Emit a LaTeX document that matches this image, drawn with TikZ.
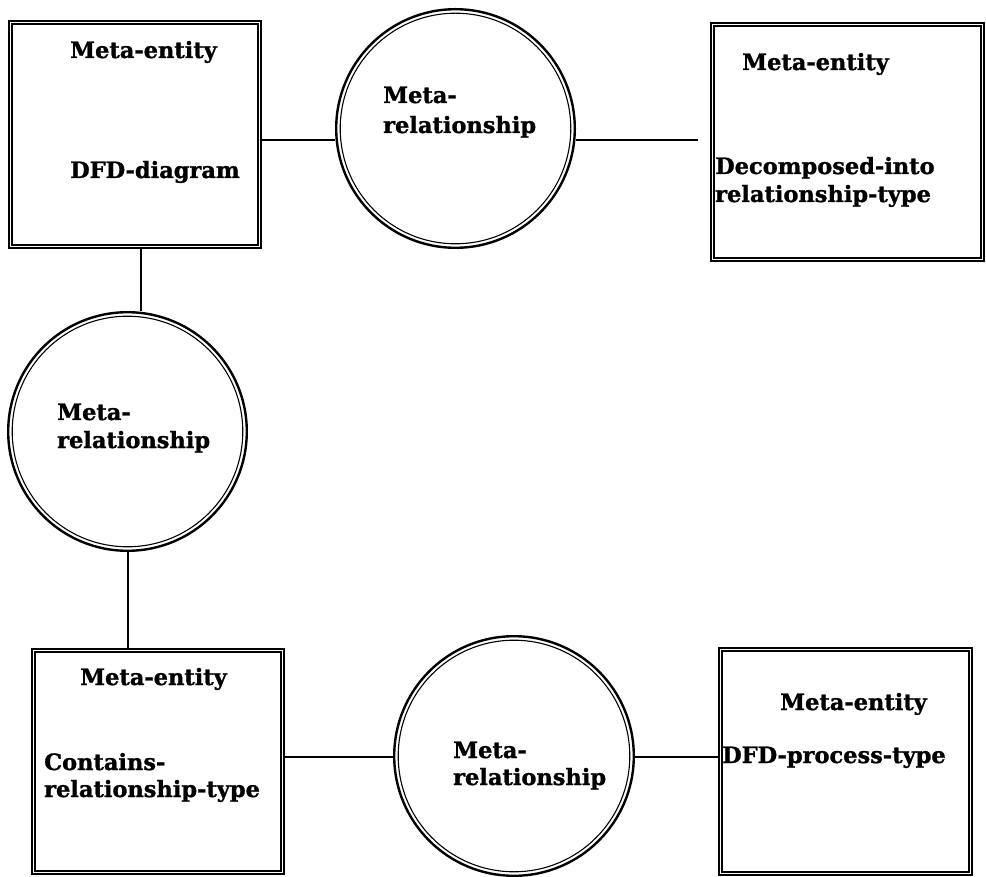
\documentclass[tikz,border=0pt]{standalone}
\usepackage{fontspec}
\setmainfont{DejaVu Serif}[BoldFeatures={FakeBold=1.2}]
\usetikzlibrary{calc}

\tikzset{
  entbox/.style={draw, rectangle, line width=2.4pt, inner sep=0pt},
  relcirc/.style={draw, circle, line width=2.4pt, inner sep=0pt, minimum size=238.6pt},
  innerline/.style={line width=1.1pt},
  link/.style={line width=1.7pt},
  lbl/.style={anchor=base west, inner sep=0pt, font=\bfseries\fontsize{22.5}{26}\selectfont},
}

\begin{document}
\begin{tikzpicture}[x=1pt,y=-1pt]
  \useasboundingbox (0,0) rectangle (986,877);
  \fill[white] (0,0) rectangle (986,877);

  % meta-entity boxes
  \node[entbox, minimum width=251.6pt, minimum height=226.6pt] (b1) at (135,134.5) {};
  \node[entbox, minimum width=272.6pt, minimum height=237.6pt] (b2) at (847.5,142) {};
  \node[entbox, minimum width=251.6pt, minimum height=224.6pt] (b3) at (158,761.5) {};
  \node[entbox, minimum width=252.6pt, minimum height=226.6pt] (b4) at (845.5,761.5) {};

  % inner rules of the double borders
  \foreach \b in {b1,b2,b3,b4}
    \draw[innerline] ($(\b.north west)+(4,4)$) rectangle ($(\b.south east)+(-4,-4)$);

  % meta-relationship circles
  \node[relcirc] (c1) at (455.5,128.5) {};
  \node[relcirc] (c2) at (127.5,431.5) {};
  \node[relcirc, minimum size=239.6pt] (c3) at (514,756) {};
  \foreach \c/\r in {c1/115.3,c2/115.3,c3/115.8}
    \draw[innerline] (\c.center) circle[radius=\r];

  % connectors
  \coordinate (stub) at (698,140);
  \draw[link] (b1.east |- 0,140) -- (c1.west |- 0,140);
  \draw[link] (c1.east |- 0,140) -- (stub);
  \draw[link] (b1.south -| 141,0) -- (c2.north -| 141,0);
  \draw[link] (c2.south -| 128,0) -- (b3.north -| 128,0);
  \draw[link] (b3.east |- 0,757) -- (c3.west |- 0,757);
  \draw[link] (c3.east |- 0,757) -- (b4.west |- 0,757);

  % labels
  \node[lbl] (t1a) at (70,58) {Meta-entity};
  \node[lbl] (t1b) at (70,178) {DFD-diagram};

  \node[lbl] (t2a) at (383,103) {Meta-};
  \node[lbl] (t2b) at (383,133) {relationship};

  \node[lbl] (t3a) at (742,70) {Meta-entity};
  \node[lbl] (t3b) at (715,174) {Decomposed-into};
  \node[lbl] (t3c) at (715,202) {relationship-type};

  \node[lbl] (t4a) at (57,420) {Meta-};
  \node[lbl] (t4b) at (57,448) {relationship};

  \node[lbl] (t5a) at (80,685) {Meta-entity};
  \node[lbl] (t5b) at (44,770) {Contains-};
  \node[lbl] (t5c) at (44,797) {relationship-type};

  \node[lbl] (t6a) at (453,758) {Meta-};
  \node[lbl] (t6b) at (453,785) {relationship};

  \node[lbl] (t7a) at (780,710) {Meta-entity};
  \node[lbl] (t7b) at (722,763) {DFD-process-type};
\end{tikzpicture}
\end{document}
